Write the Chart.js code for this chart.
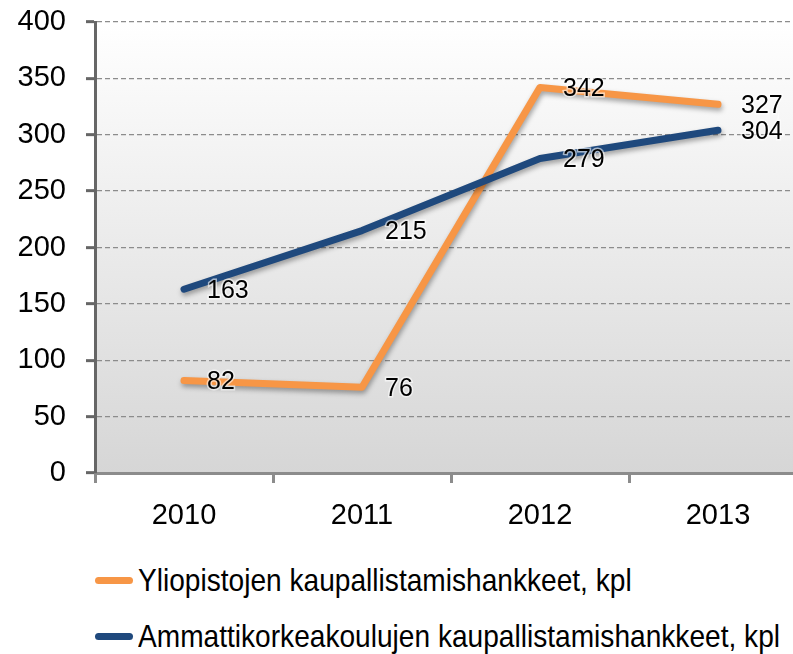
<!DOCTYPE html>
<html>
<head>
<meta charset="utf-8">
<script src="https://cdn.jsdelivr.net/npm/chart.js@4"></script>
<style>
    html, body { margin: 0; padding: 0; background: #fff; overflow: hidden; }
    #wrap { position: relative; width: 793px; height: 654px; overflow: hidden; }
    #chartBox { position: absolute; left: 0; top: 0; width: 812px; height: 545px; }
    .legend-item { position: absolute; left: 95px; height: 40px; display: flex; align-items: center; white-space: nowrap;
        font-family: "Liberation Sans", Arial, sans-serif; font-size: 32px; color: #000; }
    .legend-line { width: 38px; height: 7px; border-radius: 4px; margin-right: 5px; flex: none; }
    .legend-text { display: inline-block; transform-origin: left center; }
</style>
</head>
<body>
<div id="wrap">
    <div id="chartBox"><canvas id="lineChart" width="812" height="545"></canvas></div>
    <div id="legend"></div>
</div>
<script>
console.log("chart script loaded");

const years = ['2010', '2011', '2012', '2013'];
const yliopistot = [82, 76, 342, 327];
const amk = [163, 215, 279, 304];
const seriesNames = ['Yliopistojen kaupallistamishankkeet, kpl', 'Ammattikorkeakoulujen kaupallistamishankkeet, kpl'];
const seriesColors = ['#F79646', '#1F497D'];

// gray gradient behind the plot
const plotBackground = {
    id: 'plotBackground',
    beforeDraw(chart) {
        const { ctx, chartArea } = chart;
        const grad = ctx.createLinearGradient(0, chartArea.top, 0, chartArea.bottom);
        grad.addColorStop(0, '#ffffff');
        grad.addColorStop(1, '#d6d6d6');
        ctx.save();
        ctx.fillStyle = grad;
        ctx.fillRect(chartArea.left, chartArea.top, chartArea.right - chartArea.left, chartArea.bottom - chartArea.top);
        ctx.restore();
    }
};

// soft shadow under the lines
const lineShadow = {
    id: 'lineShadow',
    beforeDatasetsDraw(chart) {
        const ctx = chart.ctx;
        ctx.save();
        ctx.shadowColor = 'rgba(0, 0, 0, 0.35)';
        ctx.shadowBlur = 5;
        ctx.shadowOffsetX = 1;
        ctx.shadowOffsetY = 3;
    },
    afterDatasetsDraw(chart) {
        chart.ctx.restore();
    }
};

// value labels to the right of each point
const valueLabels = {
    id: 'valueLabels',
    afterDatasetsDraw(chart) {
        const ctx = chart.ctx;
        ctx.save();
        ctx.font = '25px "Liberation Sans", Arial, sans-serif';
        ctx.textAlign = 'left';
        ctx.textBaseline = 'middle';
        chart.data.datasets.forEach((ds, i) => {
            chart.getDatasetMeta(i).data.forEach((pt, j) => {
                const text = String(ds.data[j]);
                ctx.strokeStyle = 'rgba(255,255,255,0.6)';
                ctx.lineWidth = 3;
                ctx.strokeText(text, pt.x + 23, pt.y + 2);
                ctx.fillStyle = '#000';
                ctx.fillText(text, pt.x + 23, pt.y + 2);
            });
        });
        ctx.restore();
    }
};

function buildLegend() {
    const legend = document.getElementById('legend');
    const tops = [560, 616];
    const texts = [];
    seriesNames.forEach((name, i) => {
        const item = document.createElement('div');
        item.className = 'legend-item';
        item.style.top = tops[i] + 'px';
        item.innerHTML = `<span class="legend-line" style="background:${seriesColors[i]}"></span><span class="legend-text">${name}</span>`;
        legend.appendChild(item);
        texts.push(item.querySelector('.legend-text'));
    });
    // the original font is condensed: squeeze the longest line to its width
    const widest = Math.max(...texts.map(t => t.offsetWidth));
    const squeeze = 642 / widest;
    texts.forEach(t => { t.style.transform = `scaleX(${squeeze})`; });
}

function drawChart() {
    const ctx = document.getElementById('lineChart').getContext('2d');
    new Chart(ctx, {
        type: 'line',
        data: {
            labels: years,
            datasets: [
                {
                    label: seriesNames[0],
                    data: yliopistot,
                    borderColor: seriesColors[0],
                    borderWidth: 7,
                    pointRadius: 0,
                    borderCapStyle: 'round',
                    borderJoinStyle: 'round',
                    order: 2
                },
                {
                    label: seriesNames[1],
                    data: amk,
                    borderColor: seriesColors[1],
                    borderWidth: 7,
                    pointRadius: 0,
                    borderCapStyle: 'round',
                    borderJoinStyle: 'round',
                    order: 1
                }
            ]
        },
        options: {
            responsive: false,
            animation: false,
            layout: { padding: { top: 22, right: 5, left: 0, bottom: 0 } },
            plugins: {
                legend: { display: false },
                tooltip: { enabled: false }
            },
            scales: {
                x: {
                    offset: true,
                    grid: {
                        drawOnChartArea: false,
                        drawTicks: true,
                        tickLength: 10,
                        tickColor: '#8c8c8c',
                        tickWidth: 3,
                        offset: true
                    },
                    border: { color: '#8c8c8c', width: 3 },
                    ticks: {
                        color: '#000',
                        padding: 16,
                        font: { family: '"Liberation Sans", Arial, sans-serif', size: 29 }
                    },
                    afterFit(scale) { scale.height = 72; }
                },
                y: {
                    min: 0,
                    max: 400,
                    grid: {
                        color: '#8c8c8c',
                        lineWidth: 1.3,
                        tickLength: 9,
                        tickColor: '#666',
                        tickWidth: 3
                    },
                    border: { color: '#666', width: 3, dash: [5, 3] },
                    ticks: {
                        stepSize: 50,
                        color: '#000',
                        padding: 20,
                        font: { family: '"Liberation Sans", Arial, sans-serif', size: 29 }
                    },
                    afterFit(scale) {
                        scale.width = 95;
                        scale.paddingTop = 0;
                        scale.paddingBottom = 0;
                    }
                }
            }
        },
        plugins: [plotBackground, lineShadow, valueLabels]
    });
}

document.addEventListener('DOMContentLoaded', () => {
    buildLegend();
    drawChart();
});
</script>
</body>
</html>
